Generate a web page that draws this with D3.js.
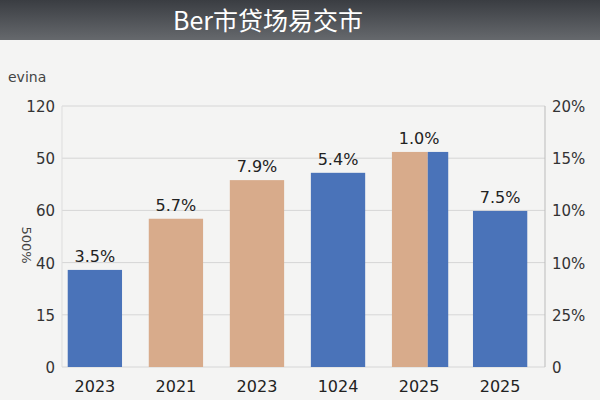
<!DOCTYPE html>
<html><head><meta charset="utf-8">
<script src="https://cdn.jsdelivr.net/npm/d3@7"></script>
<style>body{margin:0}svg{display:block}</style>
</head><body>
<svg width="600" height="400"></svg>
<script>
const categories = ['2023', '2021', '2023', '1024', '2025', '2025'];
const values = [1.86, 2.84, 3.58, 3.72, 4.12, 2.99];
const labels = ['3.5%', '5.7%', '7.9%', '5.4%', '1.0%', '7.5%'];
const kinds = ['blue', 'tan', 'tan', 'blue', 'split', 'blue'];
const leftTicks = ['0', '15', '40', '60', '50', '120'];
const rightTicks = ['0', '25%', '10%', '10%', '15%', '20%'];

const svg = d3.select('svg');
const bg = svg.append('defs').append('linearGradient').attr('id', 'bg').attr('x1', 0).attr('x2', 0).attr('y1', 0).attr('y2', 1);
bg.append('stop').attr('offset', 0).attr('stop-color', '#3a3d42');
bg.append('stop').attr('offset', 1).attr('stop-color', '#6b6e72');
svg.append('rect').attr('width', 600).attr('height', 45).attr('fill', 'url(#bg)');
svg.append('rect').attr('y', 40).attr('width', 600).attr('height', 360).attr('fill', '#f4f4f3');

svg.append('text').attr('x', 268).attr('y', 30).attr('text-anchor', 'middle')
  .attr('font-family', 'Noto Sans CJK SC').attr('font-size', 25).attr('fill', '#fff')
  .text('Ber市贷场易交市');

const x = d3.scaleBand().domain(d3.range(categories.length)).range([58, 537]).paddingInner(0.33).paddingOuter(0.12);
const y = d3.scaleLinear().domain([0, 5]).range([367, 106]);

const g = svg.append('g').attr('font-family', 'DejaVu Sans');
g.selectAll('.grid').data(d3.range(6)).join('line')
  .attr('x1', 62).attr('x2', 545).attr('y1', d => y(d)).attr('y2', d => y(d))
  .attr('stroke', '#d6d6d6');
g.append('line').attr('x1', 545).attr('x2', 545).attr('y1', 106).attr('y2', 367).attr('stroke', '#bbb');
g.append('line').attr('x1', 62).attr('x2', 62).attr('y1', 106).attr('y2', 367).attr('stroke', '#ddd');

g.selectAll('.lt').data(leftTicks).join('text')
  .attr('x', 55).attr('y', (d, i) => y(i) + 6).attr('text-anchor', 'end')
  .attr('font-size', 15).attr('fill', '#333').text(d => d);
g.selectAll('.rt').data(rightTicks).join('text')
  .attr('x', 552).attr('y', (d, i) => y(i) + 6)
  .attr('font-size', 15).attr('fill', '#333').text(d => d);

g.append('text').attr('x', 8).attr('y', 82).attr('font-size', 14).attr('fill', '#444').text('evina');
g.append('text').attr('transform', 'translate(22,245) rotate(90)').attr('text-anchor', 'middle')
  .attr('font-size', 13).attr('fill', '#444').text('500%');

const blue = '#4a73b9', tan = '#d8ab8b';
values.forEach((v, i) => {
  const x0 = x(i), w = x.bandwidth();
  if (kinds[i] === 'split') {
    g.append('rect').attr('x', x0).attr('y', y(v)).attr('width', w * 0.66).attr('height', y(0) - y(v)).attr('fill', tan);
    g.append('rect').attr('x', x0 + w * 0.66).attr('y', y(v)).attr('width', w * 0.34 + 2).attr('height', y(0) - y(v)).attr('fill', blue);
  } else {
    g.append('rect').attr('x', x0).attr('y', y(v)).attr('width', w).attr('height', y(0) - y(v))
      .attr('fill', kinds[i] === 'blue' ? blue : tan);
  }
  g.append('text').attr('x', x0 + w / 2).attr('y', y(v) - 8).attr('text-anchor', 'middle')
    .attr('font-size', 16).attr('fill', '#222').text(labels[i]);
  g.append('text').attr('x', x0 + w / 2).attr('y', 392).attr('text-anchor', 'middle')
    .attr('font-size', 16).attr('fill', '#222').text(categories[i]);
});
</script>
</body></html>
